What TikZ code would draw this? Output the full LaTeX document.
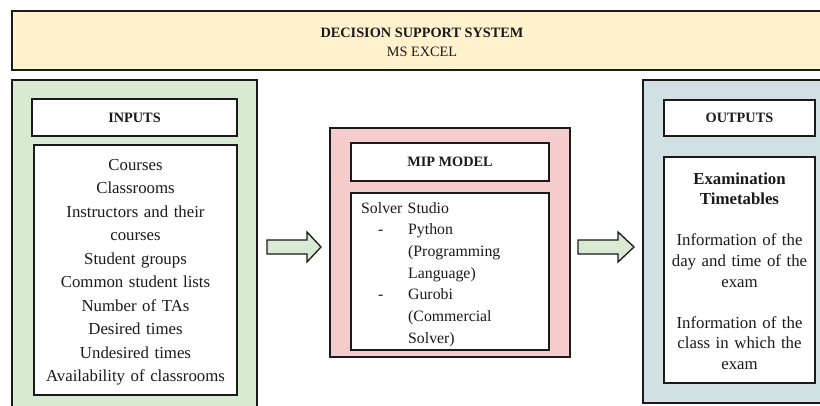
\documentclass[tikz,border=0pt]{standalone}
\usepackage{fontspec}
\setmainfont{Liberation Serif}
\definecolor{bannerfill}{HTML}{FFF2CC}
\definecolor{greenfill}{HTML}{D9EAD3}
\definecolor{pinkfill}{HTML}{F4CCCC}
\definecolor{bluefill}{HTML}{D0E0E3}
\definecolor{ink}{HTML}{1A1A1A}
\begin{document}
\begin{tikzpicture}[x=1pt,y=-1pt,
  panel/.style={draw=ink, line width=1.3pt, rectangle, inner sep=0pt, minimum width=#1},
  whitebox/.style={draw=ink, line width=1.3pt, fill=white, rectangle, inner sep=0pt},
  titletext/.style={font=\fontsize{14.3}{17}\selectfont\bfseries, text=ink},
  bodytext/.style={text=ink, inner sep=0pt},
  blockarrow/.style={draw=ink, line width=1.3pt, fill=greenfill, line join=miter}
]
\useasboundingbox (0,0) rectangle (820,405);
\begin{scope}
\clip (0,0) rectangle (820,405);
% banner
\node[draw=ink, line width=2pt, fill=bannerfill, rectangle, inner sep=0pt,
      minimum width=828pt, minimum height=59pt] (banner) at (426,40.5) {};
% outer panels
\node[draw=ink, line width=1.3pt, fill=greenfill, rectangle, inner sep=0pt,
      minimum width=245pt, minimum height=340pt] (inpanel) at (134.5,250) {};
\node[draw=ink, line width=1.3pt, fill=pinkfill, rectangle, inner sep=0pt,
      minimum width=240pt, minimum height=229pt] (mippanel) at (450,242.5) {};
\node[draw=ink, line width=1.3pt, fill=bluefill, rectangle, inner sep=0pt,
      minimum width=197pt, minimum height=323pt] (outpanel) at (741.5,241.5) {};
\end{scope}
% banner text
\node[bodytext, anchor=base, font=\fontsize{14.3}{17}\selectfont\bfseries] (dss) at (422,37) {DECISION SUPPORT SYSTEM};
\node[bodytext, anchor=base, font=\fontsize{14.3}{17}\selectfont] (excel) at (422,56) {MS EXCEL};
% title boxes
\node[whitebox, minimum width=205pt, minimum height=37pt, titletext] (inputs) at (134.5,117.5) {INPUTS};
\node[whitebox, minimum width=198pt, minimum height=38pt, titletext] (mip) at (450,162) {MIP MODEL};
\node[whitebox, minimum width=151pt, minimum height=36pt, titletext] (outputs) at (739.5,118) {OUTPUTS};
% content boxes
\node[whitebox, minimum width=203pt, minimum height=250pt] (inlist) at (135.5,270) {};
\node[whitebox, minimum width=198pt, minimum height=157pt] (solver) at (450,271.5) {};
\node[whitebox, minimum width=151pt, minimum height=226pt] (outlist) at (739.5,270) {};
% content texts
\node[bodytext, anchor=base, text width=200pt, align=center,
      font=\fontsize{16.8}{23.55}\selectfont] (intext) at (135.5,170)
  {Courses\\Classrooms\\Instructors and their\\courses\\Student groups\\Common student lists\\Number of TAs\\Desired times\\Undesired times\\Availability of classrooms};
\node[bodytext, anchor=base west, text width=185pt, align=left,
      font=\fontsize{15.8}{21.67}\selectfont] (soltext) at (361,213)
  {Solver Studio\\
   \makebox[47pt][l]{\hspace*{17pt}-}Python\\
   \hspace*{47pt}(Programming\\
   \hspace*{47pt}Language)\\
   \makebox[47pt][l]{\hspace*{17pt}-}Gurobi\\
   \hspace*{47pt}(Commercial\\
   \hspace*{47pt}Solver)};
\node[bodytext, anchor=base, text width=148pt, align=center,
      font=\fontsize{16.8}{20.6}\selectfont] (outtext) at (739.5,184)
  {\textbf{Examination}\\\textbf{Timetables}\\[20.6pt]Information of the\\day and time of the\\exam\\[20.6pt]Information of the\\class in which the\\exam};
% block arrows
\coordinate (a1) at (267,247);
\coordinate (a2) at (578,247);
\draw[blockarrow] (a1) ++(0,-7) -- ++(40,0) -- ++(0,-8) -- ++(14,15) -- ++(-14,15) -- ++(0,-8) -- ++(-40,0) -- cycle;
\draw[blockarrow] (a2) ++(0,-7) -- ++(40,0) -- ++(0,-8) -- ++(16,15) -- ++(-16,15) -- ++(0,-8) -- ++(-40,0) -- cycle;
\end{tikzpicture}
\end{document}
